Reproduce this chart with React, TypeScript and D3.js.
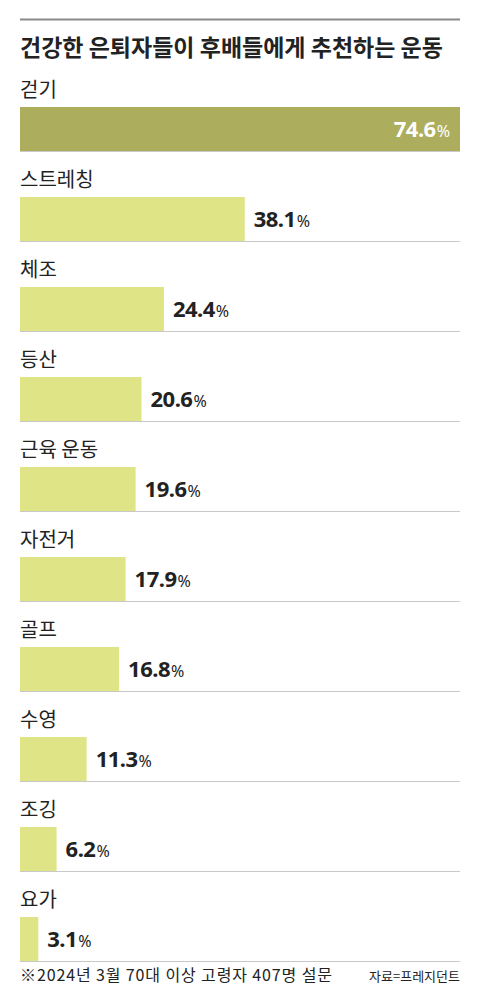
import React, { useEffect, useRef } from 'react';
import * as d3 from 'd3';

const categories = ['걷기', '스트레칭', '체조', '등산', '근육 운동', '자전거', '골프', '수영', '조깅', '요가'];
const values = [74.6, 38.1, 24.4, 20.6, 19.6, 17.9, 16.8, 11.3, 6.2, 3.1];
const title = '건강한 은퇴자들이 후배들에게 추천하는 운동';
const note = '※2024년 3월 70대 이상 고령자 407명 설문';
const source = '자료=프레지던트';

const App: React.FC = () => {
  const svgRef = useRef<SVGSVGElement>(null);

  useEffect(() => {
    if (!svgRef.current) return;
    const width = 480;
    const height = 1007;
    const left = 20;
    const right = 460;
    const font = "'Noto Sans CJK KR', 'Noto Sans', sans-serif";
    const numFont = "'Noto Sans', 'Noto Sans CJK KR', sans-serif";

    const svg = d3.select(svgRef.current);
    svg.selectAll('*').remove();

    svg.append('rect').attr('width', width).attr('height', height).attr('fill', '#fff');

    svg.append('line')
      .attr('x1', left).attr('x2', right)
      .attr('y1', 19.5).attr('y2', 19.5)
      .attr('stroke', '#8a8a8a').attr('stroke-width', 2);

    svg.append('text')
      .attr('x', left).attr('y', 56)
      .style('font-family', font).style('font-size', '23px').style('font-weight', '700')
      .attr('fill', '#222')
      .text(title);

    const x = d3.scaleLinear().domain([0, d3.max(values) as number]).range([0, right - left]);
    const y = d3.scaleBand<string>().domain(categories).range([107, 107 + 90 * categories.length]).paddingInner(0);
    const barH = 44;

    const row = svg.selectAll('.row')
      .data(categories)
      .enter().append('g')
      .attr('class', 'row')
      .attr('transform', d => `translate(0,${y(d)})`);

    row.append('text')
      .attr('x', left).attr('y', -10)
      .style('font-family', font).style('font-size', '20px')
      .attr('fill', '#222')
      .text(d => d);

    row.append('line')
      .attr('x1', left).attr('x2', right)
      .attr('y1', barH + 0.5).attr('y2', barH + 0.5)
      .attr('stroke', '#c8c8c8').attr('stroke-width', 1);

    row.append('rect')
      .attr('x', left).attr('y', 0)
      .attr('width', (_, i) => x(values[i]))
      .attr('height', barH)
      .attr('fill', (_, i) => (i === 0 ? '#adad5e' : '#dfe486'));

    const label = row.append('text')
      .attr('y', 30)
      .style('font-family', numFont)
      .attr('text-anchor', (_, i) => (i === 0 ? 'end' : 'start'))
      .attr('x', (_, i) => (i === 0 ? left + x(values[i]) - 10 : left + x(values[i]) + 9))
      .attr('fill', (_, i) => (i === 0 ? '#fff' : '#222'));

    label.append('tspan')
      .style('font-size', '22px').style('font-weight', '700')
      .attr('letter-spacing', '-0.5')
      .text((_, i) => values[i].toFixed(1));
    label.append('tspan')
      .attr('dx', 1)
      .style('font-size', '16px').style('font-weight', '400')
      .text('%');

    svg.append('text')
      .attr('x', left).attr('y', 981)
      .style('font-family', font).style('font-size', '16px')
      .attr('fill', '#222')
      .attr('textLength', 312)
      .text(note);

    svg.append('text')
      .attr('x', right).attr('y', 981)
      .attr('text-anchor', 'end')
      .style('font-family', font).style('font-size', '13px')
      .attr('fill', '#222')
      .text(source);
  }, []);

  return <svg ref={svgRef} width={480} height={1007} style={{ display: 'block', margin: '-8px' }} />;
};

export default App;
